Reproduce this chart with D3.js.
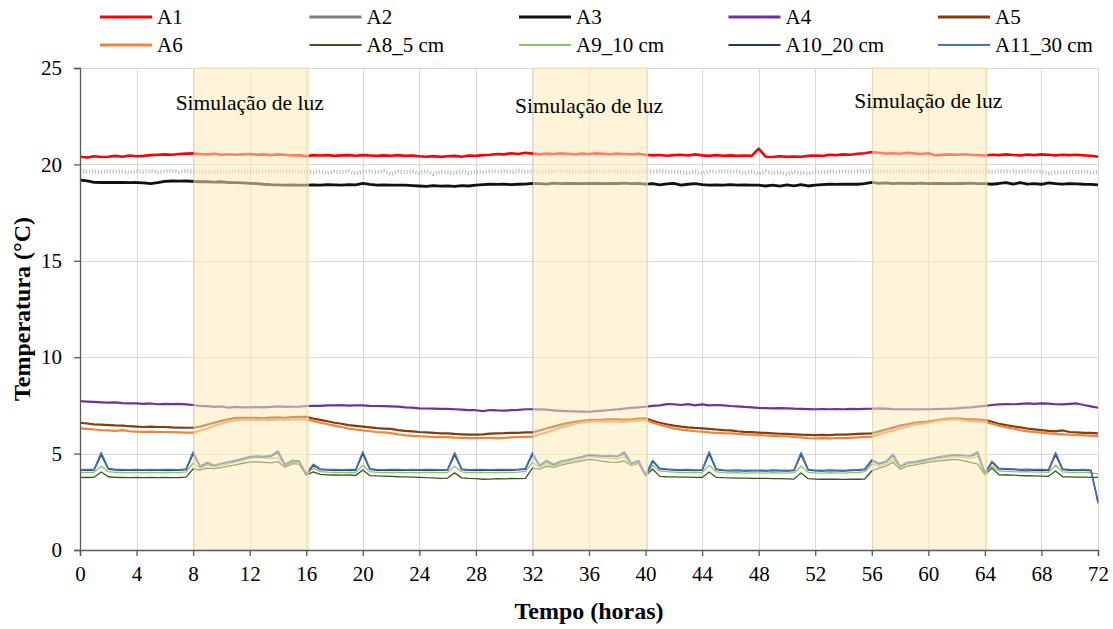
<!DOCTYPE html>
<html>
<head>
<meta charset="utf-8">
<script src="https://cdn.jsdelivr.net/npm/d3@7"></script>
<style>
body { margin: 0; background: #fff; }
svg { display: block; }
</style>
</head>
<body>
<div id="container"></div>
<script>
// sample times, every half hour from 0 to 72 h
const hours = d3.range(0, 72.5, 0.5)

const xTicks = [0, 4, 8, 12, 16, 20, 24, 28, 32, 36, 40, 44, 48, 52, 56, 60, 64, 68, 72]
const yTicks = [0, 5, 10, 15, 20, 25]

const lightStart = [8, 32, 56]
const lightEnd = [16, 40, 64]
const lightLabel = 'Simulação de luz'

const A1 = [
  20.40, 20.36, 20.42, 20.38, 20.40, 20.44, 20.40, 20.46, 20.42, 20.44, 20.48, 20.50, 20.52, 20.50, 20.54, 20.56,
  20.57, 20.54, 20.52, 20.55, 20.50, 20.53, 20.50, 20.52, 20.54, 20.50, 20.52, 20.48, 20.52, 20.50, 20.46, 20.48,
  20.42, 20.48, 20.46, 20.48, 20.44, 20.47, 20.48, 20.45, 20.48, 20.46, 20.44, 20.47, 20.45, 20.48, 20.44, 20.46,
  20.42, 20.40, 20.43, 20.39, 20.42, 20.44, 20.40, 20.46, 20.44, 20.48, 20.50, 20.54, 20.52, 20.58, 20.54, 20.60,
  20.56, 20.52, 20.56, 20.54, 20.57, 20.55, 20.52, 20.56, 20.54, 20.57, 20.55, 20.53, 20.56, 20.54, 20.52, 20.55,
  20.50, 20.47, 20.49, 20.45, 20.48, 20.50, 20.46, 20.52, 20.47, 20.44, 20.48, 20.45, 20.47, 20.44, 20.46, 20.44,
  20.82, 20.40, 20.38, 20.42, 20.39, 20.41, 20.40, 20.44, 20.46, 20.44, 20.50, 20.48, 20.52, 20.50, 20.55, 20.58,
  20.64, 20.60, 20.56, 20.58, 20.55, 20.60, 20.57, 20.54, 20.58, 20.48, 20.50, 20.52, 20.50, 20.53, 20.50, 20.48,
  20.46, 20.50, 20.48, 20.52, 20.49, 20.47, 20.51, 20.48, 20.52, 20.50, 20.47, 20.50, 20.48, 20.50, 20.47, 20.45,
  20.40]

const A2 = [
  19.68, 19.62, 19.64, 19.60, 19.66, 19.62, 19.64, 19.58, 19.64, 19.62, 19.66, 19.60, 19.64, 19.66, 19.62, 19.66,
  19.62, 19.64, 19.63, 19.60, 19.64, 19.62, 19.65, 19.63, 19.64, 19.62, 19.64, 19.63, 19.65, 19.62, 19.64, 19.63,
  19.64, 19.58, 19.64, 19.55, 19.63, 19.60, 19.64, 19.52, 19.62, 19.64, 19.58, 19.65, 19.50, 19.62, 19.60, 19.64,
  19.56, 19.64, 19.50, 19.62, 19.58, 19.55, 19.64, 19.54, 19.62, 19.60, 19.64, 19.62, 19.65, 19.60, 19.66, 19.62,
  19.63, 19.62, 19.64, 19.63, 19.65, 19.62, 19.64, 19.63, 19.62, 19.64, 19.63, 19.65, 19.62, 19.64, 19.63, 19.62,
  19.64, 19.62, 19.65, 19.62, 19.63, 19.60, 19.55, 19.62, 19.52, 19.64, 19.62, 19.65, 19.62, 19.64, 19.55, 19.62,
  19.52, 19.64, 19.55, 19.60, 19.50, 19.62, 19.56, 19.52, 19.62, 19.58, 19.64, 19.62, 19.64, 19.62, 19.65, 19.63,
  19.66, 19.62, 19.64, 19.63, 19.65, 19.62, 19.64, 19.63, 19.62, 19.64, 19.63, 19.65, 19.62, 19.64, 19.63, 19.62,
  19.64, 19.62, 19.65, 19.63, 19.64, 19.62, 19.65, 19.62, 19.64, 19.55, 19.60, 19.58, 19.62, 19.60, 19.64, 19.58,
  19.60]

const A3 = [
  19.19, 19.14, 19.07, 19.06, 19.06, 19.07, 19.06, 19.05, 19.06, 19.04, 19.00, 19.05, 19.12, 19.14, 19.13, 19.14,
  19.12, 19.10, 19.10, 19.08, 19.10, 19.06, 19.05, 19.04, 19.02, 19.00, 18.97, 18.95, 18.94, 18.93, 18.94, 18.93,
  18.93, 18.94, 18.93, 18.95, 18.94, 18.93, 18.95, 18.94, 19.02, 18.96, 18.93, 18.94, 18.92, 18.93, 18.92, 18.90,
  18.88, 18.86, 18.90, 18.87, 18.89, 18.86, 18.90, 18.88, 18.92, 18.95, 18.97, 18.96, 18.98, 18.95, 18.97, 18.98,
  19.02, 19.00, 18.98, 19.03, 19.00, 19.02, 19.01, 19.00, 19.02, 19.01, 19.00, 19.02, 19.01, 19.03, 19.00, 19.02,
  18.98, 19.00, 18.94, 18.99, 19.02, 18.93, 18.97, 19.00, 18.95, 18.93, 18.94, 18.93, 18.95, 18.92, 18.94, 18.93,
  18.92, 18.88, 18.93, 18.87, 18.94, 18.89, 18.95, 18.88, 18.93, 18.95, 18.97, 18.96, 18.97, 18.98, 18.97, 19.00,
  19.07, 19.02, 19.04, 19.00, 19.03, 19.02, 19.01, 19.03, 19.00, 19.02, 19.01, 19.00, 19.02, 19.01, 19.03, 19.00,
  19.00, 18.97, 19.01, 19.06, 18.98, 19.05, 18.98, 19.00, 18.97, 19.04, 19.00, 18.98, 19.00, 18.99, 18.97, 18.96,
  18.94]

const A4 = [
  7.72, 7.70, 7.68, 7.66, 7.64, 7.66, 7.62, 7.60, 7.60, 7.58, 7.60, 7.56, 7.58, 7.57, 7.58, 7.55,
  7.52, 7.48, 7.46, 7.42, 7.45, 7.38, 7.42, 7.40, 7.40, 7.41, 7.40, 7.42, 7.45, 7.42, 7.43, 7.44,
  7.47, 7.48, 7.48, 7.50, 7.50, 7.51, 7.49, 7.50, 7.50, 7.48, 7.47, 7.46, 7.45, 7.44, 7.40, 7.38,
  7.35, 7.34, 7.33, 7.32, 7.32, 7.30, 7.28, 7.26, 7.25, 7.20, 7.26, 7.24, 7.23, 7.25, 7.27, 7.30,
  7.30, 7.29, 7.28, 7.24, 7.22, 7.20, 7.19, 7.18, 7.17, 7.20, 7.23, 7.26, 7.29, 7.33, 7.37, 7.40,
  7.43, 7.48, 7.50, 7.57, 7.56, 7.52, 7.57, 7.50, 7.55, 7.50, 7.52, 7.50, 7.47, 7.45, 7.42, 7.40,
  7.37, 7.36, 7.35, 7.36, 7.35, 7.33, 7.32, 7.31, 7.30, 7.31, 7.30, 7.31, 7.30, 7.32, 7.31, 7.32,
  7.33, 7.35, 7.33, 7.31, 7.30, 7.30, 7.29, 7.30, 7.30, 7.31, 7.32, 7.33, 7.35, 7.38, 7.40, 7.44,
  7.48, 7.52, 7.55, 7.57, 7.56, 7.58, 7.60, 7.58, 7.60, 7.59, 7.56, 7.55, 7.58, 7.60, 7.52, 7.45,
  7.38]

const A5 = [
  6.60, 6.56, 6.52, 6.50, 6.48, 6.46, 6.45, 6.42, 6.40, 6.38, 6.40, 6.38, 6.38, 6.36, 6.35, 6.34,
  6.34, 6.40, 6.50, 6.60, 6.70, 6.78, 6.85, 6.86, 6.85, 6.86, 6.84, 6.87, 6.88, 6.86, 6.89, 6.90,
  6.91, 6.82, 6.75, 6.68, 6.60, 6.55, 6.48, 6.44, 6.40, 6.36, 6.32, 6.30, 6.28, 6.22, 6.18, 6.15,
  6.12, 6.10, 6.08, 6.05, 6.05, 6.02, 6.00, 5.98, 5.98, 6.00, 6.04, 6.05, 6.06, 6.08, 6.08, 6.10,
  6.10, 6.20, 6.30, 6.40, 6.50, 6.58, 6.65, 6.70, 6.74, 6.75, 6.76, 6.78, 6.78, 6.76, 6.78, 6.82,
  6.83, 6.70, 6.60, 6.52, 6.45, 6.40, 6.36, 6.33, 6.31, 6.28, 6.25, 6.22, 6.20, 6.16, 6.13, 6.11,
  6.09, 6.07, 6.05, 6.03, 6.02, 6.00, 5.98, 5.97, 5.96, 5.97, 5.96, 5.98, 5.98, 6.00, 6.02, 6.04,
  6.05, 6.15, 6.25, 6.35, 6.45, 6.52, 6.60, 6.64, 6.66, 6.72, 6.78, 6.82, 6.83, 6.80, 6.78, 6.76,
  6.74, 6.65, 6.55, 6.48, 6.42, 6.36, 6.30, 6.26, 6.22, 6.18, 6.15, 6.20, 6.12, 6.10, 6.08, 6.07,
  6.05]

const A6 = [
  6.31, 6.28, 6.25, 6.22, 6.20, 6.18, 6.22, 6.16, 6.14, 6.13, 6.14, 6.12, 6.12, 6.11, 6.10, 6.09,
  6.09, 6.20, 6.30, 6.45, 6.55, 6.65, 6.74, 6.76, 6.76, 6.75, 6.76, 6.74, 6.77, 6.75, 6.77, 6.78,
  6.78, 6.70, 6.60, 6.52, 6.45, 6.38, 6.30, 6.25, 6.20, 6.16, 6.12, 6.10, 6.06, 6.00, 5.95, 5.92,
  5.90, 5.88, 5.86, 5.85, 5.85, 5.83, 5.82, 5.80, 5.80, 5.81, 5.82, 5.80, 5.82, 5.84, 5.86, 5.87,
  5.88, 6.00, 6.10, 6.22, 6.35, 6.45, 6.55, 6.62, 6.66, 6.68, 6.66, 6.68, 6.67, 6.66, 6.70, 6.72,
  6.74, 6.60, 6.50, 6.40, 6.30, 6.24, 6.20, 6.16, 6.14, 6.10, 6.08, 6.06, 6.05, 6.02, 6.00, 5.98,
  5.96, 5.94, 5.92, 5.90, 5.90, 5.86, 5.84, 5.80, 5.79, 5.80, 5.79, 5.81, 5.80, 5.82, 5.84, 5.86,
  5.88, 6.00, 6.10, 6.20, 6.30, 6.40, 6.50, 6.55, 6.60, 6.68, 6.74, 6.78, 6.78, 6.72, 6.68, 6.66,
  6.66, 6.55, 6.45, 6.36, 6.30, 6.22, 6.15, 6.12, 6.09, 6.05, 6.02, 6.00, 5.98, 5.97, 5.95, 5.93,
  5.91]

const A8 = [
  3.77, 3.76, 3.77, 4.05, 3.80, 3.77, 3.76, 3.75, 3.77, 3.75, 3.76, 3.75, 3.76, 3.75, 3.76, 3.78,
  4.20, 4.15, 4.25, 4.22, 4.28, 4.35, 4.42, 4.50, 4.56, 4.58, 4.55, 4.52, 4.58, 4.30, 4.48, 4.45,
  3.88, 4.05, 3.92, 3.90, 3.89, 3.88, 3.89, 3.87, 4.15, 3.86, 3.84, 3.83, 3.82, 3.80, 3.79, 3.78,
  3.77, 3.75, 3.74, 3.72, 3.73, 4.00, 3.74, 3.71, 3.70, 3.67, 3.68, 3.70, 3.69, 3.71, 3.70, 3.72,
  4.25, 4.20, 4.35, 4.28, 4.40, 4.48, 4.56, 4.62, 4.70, 4.66, 4.60, 4.56, 4.55, 4.62, 4.38, 4.50,
  3.85, 4.20, 3.82, 3.80, 3.79, 3.78, 3.78, 3.77, 3.76, 4.05, 3.77, 3.75, 3.74, 3.73, 3.73, 3.72,
  3.72, 3.71, 3.70, 3.70, 3.69, 3.68, 4.00, 3.70, 3.68, 3.67, 3.68, 3.67, 3.66, 3.67, 3.67, 3.68,
  4.10, 4.25, 4.35, 4.55, 4.20, 4.35, 4.40, 4.48, 4.55, 4.60, 4.64, 4.68, 4.70, 4.62, 4.55, 4.45,
  3.90, 4.25, 3.90, 3.89, 3.88, 3.86, 3.85, 3.84, 3.83, 3.82, 4.10, 3.80, 3.79, 3.78, 3.78, 3.77,
  3.77]

const A9 = [
  4.03, 4.02, 4.03, 4.35, 4.06, 4.03, 4.02, 4.01, 4.03, 4.01, 4.02, 4.01, 4.03, 4.02, 4.01, 4.05,
  4.50, 4.25, 4.40, 4.32, 4.40, 4.48, 4.56, 4.65, 4.75, 4.80, 4.78, 4.75, 4.80, 4.40, 4.55, 4.52,
  3.95, 4.25, 4.06, 4.04, 4.03, 4.02, 4.03, 4.02, 4.40, 4.06, 4.03, 4.02, 4.03, 4.02, 4.01, 4.02,
  4.01, 4.03, 4.02, 4.01, 4.03, 4.35, 4.05, 4.01, 4.02, 4.03, 4.01, 4.02, 4.03, 4.02, 4.04, 4.08,
  4.55, 4.30, 4.48, 4.36, 4.48, 4.56, 4.64, 4.72, 4.85, 4.82, 4.78, 4.75, 4.72, 4.85, 4.42, 4.55,
  3.85, 4.40, 4.10, 4.06, 4.04, 4.02, 4.03, 4.01, 4.02, 4.40, 4.05, 4.01, 4.00, 4.01, 3.99, 4.00,
  4.00, 3.99, 4.01, 4.00, 3.99, 4.01, 4.35, 4.03, 4.00, 3.99, 4.01, 4.00, 3.99, 4.01, 4.02, 4.06,
  4.45, 4.36, 4.45, 4.70, 4.28, 4.45, 4.50, 4.56, 4.62, 4.70, 4.76, 4.82, 4.85, 4.80, 4.75, 4.85,
  3.92, 4.35, 4.10, 4.08, 4.06, 4.05, 4.06, 4.04, 4.05, 4.03, 4.40, 4.05, 4.03, 4.02, 4.03, 4.01,
  3.95]

const A10 = [
  4.15, 4.14, 4.15, 4.95, 4.20, 4.15, 4.14, 4.13, 4.15, 4.13, 4.14, 4.13, 4.15, 4.14, 4.13, 4.17,
  5.00, 4.32, 4.50, 4.38, 4.48, 4.55, 4.62, 4.72, 4.82, 4.85, 4.83, 4.86, 5.05, 4.42, 4.62, 4.60,
  3.92, 4.40, 4.17, 4.15, 4.14, 4.13, 4.15, 4.14, 5.00, 4.19, 4.14, 4.13, 4.15, 4.14, 4.13, 4.14,
  4.13, 4.15, 4.14, 4.13, 4.15, 4.95, 4.17, 4.13, 4.14, 4.15, 4.13, 4.14, 4.15, 4.14, 4.16, 4.19,
  4.95, 4.38, 4.60, 4.42, 4.58, 4.65, 4.74, 4.82, 4.92, 4.90, 4.86, 4.88, 4.84, 5.00, 4.48, 4.62,
  3.88, 4.60, 4.21, 4.17, 4.15, 4.13, 4.14, 4.12, 4.13, 5.00, 4.17, 4.12, 4.11, 4.12, 4.10, 4.11,
  4.11, 4.10, 4.12, 4.11, 4.10, 4.12, 4.95, 4.15, 4.11, 4.10, 4.12, 4.11, 4.10, 4.12, 4.13, 4.17,
  4.62, 4.46, 4.56, 4.90, 4.32, 4.52, 4.55, 4.62, 4.70, 4.78, 4.84, 4.90, 4.93, 4.90, 4.88, 5.00,
  3.98, 4.55, 4.21, 4.19, 4.17, 4.15, 4.16, 4.14, 4.15, 4.13, 4.95, 4.17, 4.14, 4.13, 4.14, 4.12,
  2.55]

const A11 = [
  4.18, 4.17, 4.18, 5.05, 4.24, 4.18, 4.17, 4.16, 4.18, 4.16, 4.17, 4.16, 4.18, 4.17, 4.16, 4.20,
  5.10, 4.35, 4.55, 4.40, 4.50, 4.58, 4.65, 4.75, 4.85, 4.88, 4.86, 4.90, 5.15, 4.45, 4.65, 4.62,
  3.95, 4.45, 4.20, 4.18, 4.17, 4.16, 4.18, 4.17, 5.10, 4.22, 4.17, 4.16, 4.18, 4.17, 4.16, 4.17,
  4.16, 4.18, 4.17, 4.16, 4.18, 5.05, 4.20, 4.16, 4.17, 4.18, 4.16, 4.17, 4.18, 4.17, 4.19, 4.22,
  5.05, 4.40, 4.65, 4.45, 4.60, 4.68, 4.76, 4.85, 4.95, 4.92, 4.88, 4.90, 4.86, 5.10, 4.50, 4.65,
  3.90, 4.65, 4.24, 4.20, 4.18, 4.16, 4.17, 4.15, 4.16, 5.10, 4.20, 4.15, 4.14, 4.15, 4.13, 4.14,
  4.14, 4.13, 4.15, 4.14, 4.13, 4.15, 5.05, 4.18, 4.14, 4.13, 4.15, 4.14, 4.13, 4.15, 4.16, 4.20,
  4.68, 4.50, 4.60, 4.98, 4.35, 4.55, 4.58, 4.65, 4.72, 4.80, 4.86, 4.92, 4.95, 4.92, 4.90, 5.10,
  4.00, 4.60, 4.24, 4.22, 4.20, 4.18, 4.19, 4.17, 4.18, 4.16, 5.05, 4.20, 4.17, 4.16, 4.17, 4.15,
  2.42]

const seriesNames = ['A1', 'A2', 'A3', 'A4', 'A5', 'A6', 'A8_5 cm', 'A9_10 cm', 'A10_20 cm', 'A11_30 cm']
const seriesValues = [A1, A2, A3, A4, A5, A6, A8, A9, A10, A11]
const seriesColors = ['#ff0000', '#7f7f7f', '#111111', '#7030a0', '#843c0c', '#f4823c', '#375623', '#8cc462', '#1f3864', '#4472c4']
const seriesWidths = [2.6, 2.6, 2.8, 2.2, 2.2, 2.2, 1.3, 1.3, 1.5, 1.5]

const FONT = '"Liberation Serif", "Times New Roman", Tinos, Times, serif'
const W = 1113, H = 629
const plotLeft = 80, plotRight = 1098, plotTop = 68, plotBottom = 550

var svg = d3.select('#container').append('svg')
    .attr('width', W)
    .attr('height', H)
    .attr('font-family', FONT)

var x = d3.scaleLinear().domain([0, 72]).range([plotLeft, plotRight])
var y = d3.scaleLinear().domain([0, 25]).range([plotBottom, plotTop])

// grid
svg.append('g').selectAll('line')
    .data(yTicks.slice(1))
    .join('line')
    .attr('x1', plotLeft).attr('x2', plotRight)
    .attr('y1', d => Math.round(y(d)) + 0.5).attr('y2', d => Math.round(y(d)) + 0.5)
    .attr('stroke', '#d9d9d9').attr('stroke-width', 1)

svg.append('g').selectAll('line')
    .data(xTicks.slice(1))
    .join('line')
    .attr('x1', d => Math.round(x(d)) + 0.5).attr('x2', d => Math.round(x(d)) + 0.5)
    .attr('y1', plotTop).attr('y2', plotBottom)
    .attr('stroke', '#d9d9d9').attr('stroke-width', 1)

// series
var line = d3.line()
    .x((d, i) => x(hours[i]))
    .y(d => y(d))

seriesValues.forEach(function(vals, k) {
    var p = svg.append('path')
        .datum(vals)
        .attr('d', line)
        .attr('fill', 'none')
        .attr('stroke', seriesColors[k])
        .attr('stroke-width', seriesWidths[k])
        .attr('stroke-linejoin', 'round')
    if (k == 1) {
        // A2 is very noisy, it reads as a light hatched band
        p.attr('stroke', '#a6a6a6')
            .attr('stroke-width', 4)
            .attr('stroke-dasharray', '1.2,1.8')
            .attr('opacity', 0.75)
    }
})

// light periods, drawn over the lines
lightStart.forEach(function(s, i) {
    svg.append('rect')
        .attr('x', x(s) + 1)
        .attr('y', plotTop)
        .attr('width', x(lightEnd[i]) - x(s) + 1)
        .attr('height', plotBottom - plotTop)
        .attr('fill', '#ffe9b8')
        .attr('fill-opacity', 0.55)
        .attr('stroke', '#f3d99a')
        .attr('stroke-opacity', 0.8)
        .attr('stroke-width', 1)
    svg.append('text')
        .attr('x', x((s + lightEnd[i]) / 2))
        .attr('y', [110, 113, 108][i])
        .attr('text-anchor', 'middle')
        .attr('font-family', FONT)
        .attr('font-size', 21.5)
        .attr('fill', '#000')
        .text(lightLabel)
})

// axes
var yAxis = svg.append('g')
    .attr('transform', 'translate(' + plotLeft + ',0)')
    .call(d3.axisLeft(y).tickValues(yTicks).tickSize(6).tickPadding(12))
var xAxis = svg.append('g')
    .attr('transform', 'translate(0,' + plotBottom + ')')
    .call(d3.axisBottom(x).tickValues(xTicks).tickSize(6).tickPadding(10))

;[yAxis, xAxis].forEach(function(a) {
    a.attr('font-family', FONT).attr('font-size', 21)
    a.select('.domain').attr('stroke', '#595959').attr('stroke-width', 1.3)
    a.selectAll('.tick line').attr('stroke', '#595959').attr('stroke-width', 1.3)
    a.selectAll('.tick text').attr('fill', '#000')
})

svg.append('text')
    .attr('transform', 'translate(30,' + ((plotTop + plotBottom) / 2) + ') rotate(-90)')
    .attr('text-anchor', 'middle')
    .attr('font-family', FONT)
    .attr('font-size', 24)
    .attr('font-weight', 'bold')
    .text('Temperatura (°C)')

svg.append('text')
    .attr('x', (plotLeft + plotRight) / 2)
    .attr('y', 619)
    .attr('text-anchor', 'middle')
    .attr('font-family', FONT)
    .attr('font-size', 24)
    .attr('font-weight', 'bold')
    .text('Tempo (horas)')

// legend, two rows of five
var legend = svg.append('g')
seriesNames.forEach(function(name, k) {
    var col = k % 5, row = Math.floor(k / 5)
    var lx = 100 + col * 209.5, ly = 17 + row * 28
    legend.append('line')
        .attr('x1', lx).attr('x2', lx + 52)
        .attr('y1', ly).attr('y2', ly)
        .attr('stroke', seriesColors[k])
        .attr('stroke-width', k < 6 ? 3 : 1.8)
    legend.append('text')
        .attr('x', lx + 57)
        .attr('y', ly + 7)
        .attr('font-family', FONT)
        .attr('font-size', 21)
        .text(name)
})
</script>
</body>
</html>
